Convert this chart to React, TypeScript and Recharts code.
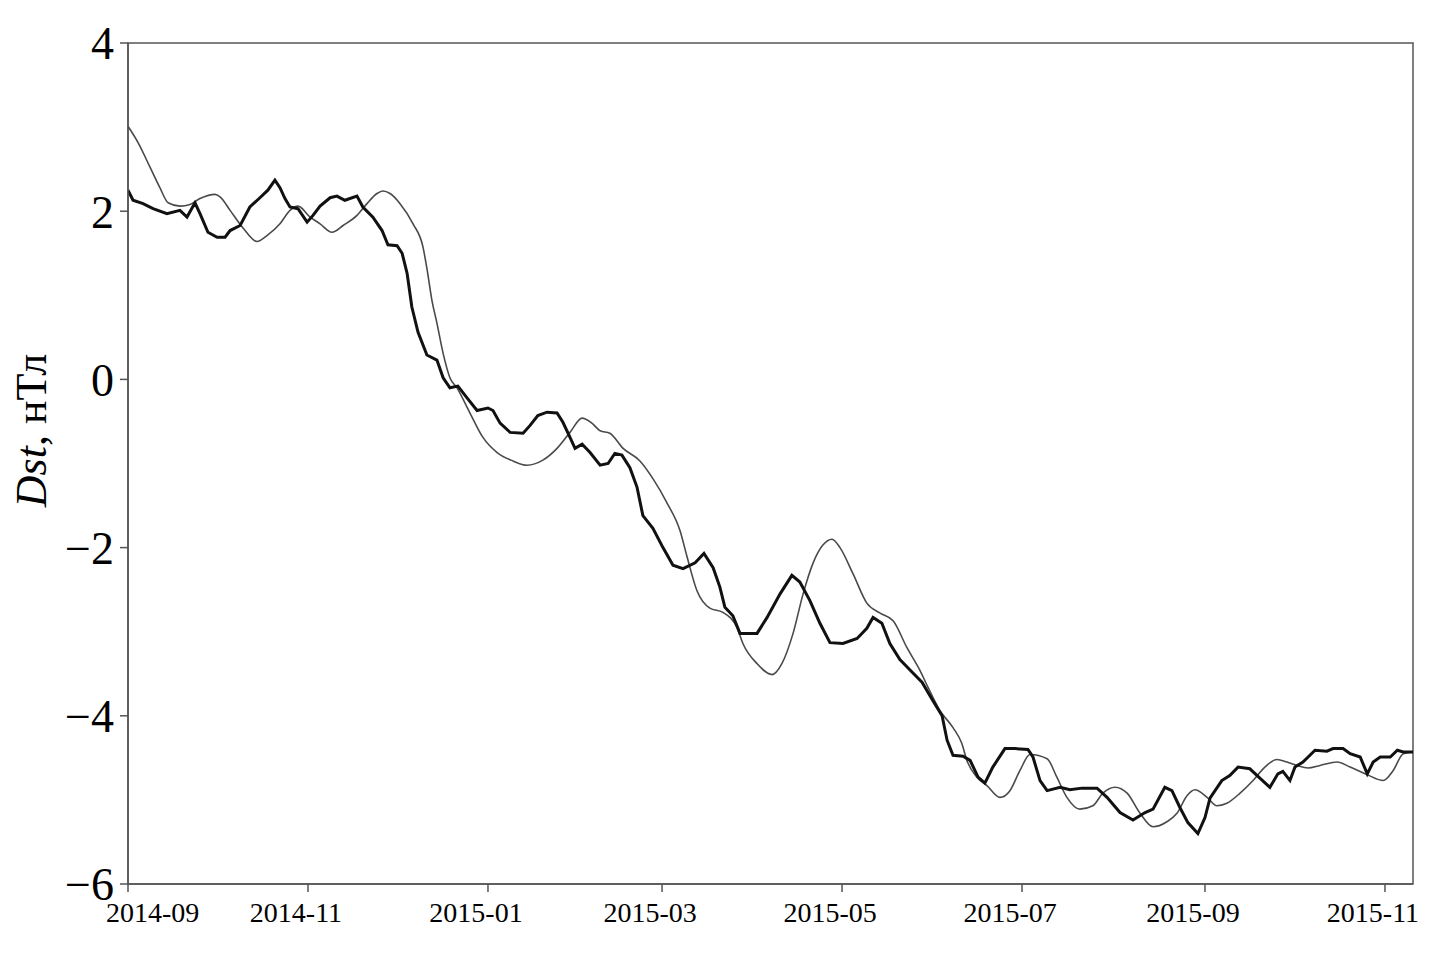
import React from "react";
import { LineChart, Line, XAxis, YAxis, ReferenceArea } from "recharts";

// Days since 2014-09-01
const tickDays = [0, 61, 122, 181, 242, 303, 365, 426];
const tickLabels = ["2014-09", "2014-11", "2015-01", "2015-03", "2015-05", "2015-07", "2015-09", "2015-11"];
const yTicks = [-6, -4, -2, 0, 2, 4];

// Thick (black) series
const thickDays = [0, 1.7, 5.1, 8.5, 13.2, 17.6, 20.0, 22.7, 24.4, 27.1, 30.2, 32.9, 34.6, 38.0, 41.3, 44.7, 47.4, 49.8, 51.5, 53.2, 54.9, 57.6, 60.7, 62.7, 65.1, 68.5, 70.8, 73.5, 77.6, 79.6, 83.0, 86.1, 88.1, 91.2, 92.9, 94.6, 96.2, 98.3, 101.3, 104.7, 106.8, 109.1, 111.8, 114.9, 118.3, 122.0, 123.7, 126.1, 129.5, 133.9, 136.2, 138.9, 142.0, 145.4, 147.4, 149.8, 151.5, 153.9, 156.6, 160.0, 162.7, 165.0, 167.4, 170.1, 172.5, 174.5, 177.9, 181.3, 184.7, 188.1, 192.2, 195.2, 198.3, 200.6, 202.3, 205.0, 207.4, 213.2, 216.6, 221.0, 225.0, 227.7, 231.1, 234.5, 237.9, 242.3, 247.1, 250.4, 252.5, 255.5, 258.2, 261.6, 265.7, 269.1, 272.8, 275.9, 277.6, 279.6, 283.0, 285.4, 288.1, 290.4, 293.1, 297.2, 300.6, 305.0, 306.7, 309.1, 311.5, 315.9, 319.2, 323.3, 328.4, 331.8, 336.2, 340.6, 344.7, 347.4, 351.4, 353.8, 356.5, 359.2, 362.6, 365.0, 366.7, 370.7, 373.4, 376.2, 380.2, 383.6, 387.0, 389.7, 391.4, 393.8, 395.5, 398.2, 402.3, 406.3, 408.4, 411.8, 414.2, 417.6, 420.0, 422.0, 424.4, 427.8, 430.2, 432.2, 435.5];
const thickValues = [2.25, 2.13, 2.09, 2.03, 1.97, 2.01, 1.93, 2.10, 1.97, 1.75, 1.69, 1.69, 1.77, 1.83, 2.05, 2.16, 2.25, 2.37, 2.28, 2.15, 2.05, 2.03, 1.87, 1.95, 2.06, 2.16, 2.18, 2.13, 2.18, 2.05, 1.93, 1.77, 1.60, 1.59, 1.50, 1.26, 0.86, 0.56, 0.29, 0.23, 0.02, -0.10, -0.08, -0.22, -0.37, -0.34, -0.37, -0.52, -0.63, -0.64, -0.55, -0.43, -0.39, -0.40, -0.51, -0.69, -0.82, -0.77, -0.87, -1.02, -1.00, -0.88, -0.90, -1.05, -1.28, -1.62, -1.77, -2.00, -2.21, -2.25, -2.18, -2.07, -2.24, -2.47, -2.71, -2.81, -3.02, -3.02, -2.83, -2.55, -2.33, -2.41, -2.63, -2.90, -3.13, -3.14, -3.08, -2.96, -2.83, -2.90, -3.14, -3.33, -3.48, -3.60, -3.82, -4.00, -4.29, -4.47, -4.48, -4.53, -4.73, -4.80, -4.61, -4.39, -4.39, -4.40, -4.49, -4.77, -4.89, -4.85, -4.88, -4.86, -4.86, -4.97, -5.15, -5.24, -5.15, -5.11, -4.85, -4.89, -5.09, -5.27, -5.40, -5.21, -4.98, -4.77, -4.71, -4.61, -4.63, -4.74, -4.85, -4.69, -4.66, -4.77, -4.61, -4.55, -4.41, -4.42, -4.39, -4.39, -4.45, -4.49, -4.69, -4.55, -4.49, -4.49, -4.41, -4.43, -4.43];

// Thin (grey) series
const thinDays = [0, 3.5, 7.5, 10.8, 13.6, 17.6, 21.0, 24.4, 29.5, 31.2, 34.6, 39.0, 43.7, 47.1, 51.5, 54.9, 57.6, 61.7, 65.1, 69.1, 72.9, 77.6, 81.0, 84.4, 86.4, 88.8, 92.2, 96.6, 100.0, 101.3, 103.0, 104.7, 106.8, 109.1, 111.5, 115.9, 120.3, 125.1, 130.5, 135.2, 140.6, 145.4, 149.8, 153.9, 157.2, 160.0, 163.3, 167.8, 173.5, 177.9, 182.7, 187.1, 189.4, 192.8, 197.2, 201.6, 206.4, 208.4, 213.2, 218.3, 221.6, 225.4, 228.8, 232.1, 235.5, 238.6, 241.3, 245.7, 250.4, 254.9, 259.3, 264.0, 268.4, 271.1, 275.2, 279.6, 282.6, 284.3, 287.7, 291.1, 295.5, 298.9, 302.3, 305.7, 311.5, 314.8, 318.2, 322.6, 327.0, 330.4, 334.5, 338.6, 343.0, 347.4, 352.1, 355.5, 358.9, 361.6, 365.7, 369.0, 372.4, 376.9, 381.3, 385.3, 389.4, 392.8, 396.2, 399.9, 404.0, 409.8, 414.2, 420.0, 425.4, 428.8, 432.2, 435.5];
const thinValues = [3.01, 2.81, 2.52, 2.28, 2.10, 2.06, 2.08, 2.15, 2.20, 2.17, 2.01, 1.80, 1.64, 1.71, 1.85, 2.01, 2.06, 1.93, 1.85, 1.75, 1.83, 1.95, 2.09, 2.21, 2.24, 2.21, 2.09, 1.85, 1.57, 1.32, 0.94, 0.67, 0.31, 0.02, -0.10, -0.40, -0.69, -0.87, -0.97, -1.02, -0.96, -0.82, -0.63, -0.46, -0.52, -0.61, -0.64, -0.82, -0.97, -1.18, -1.47, -1.80, -2.10, -2.51, -2.72, -2.77, -2.95, -3.14, -3.38, -3.51, -3.38, -3.02, -2.55, -2.19, -1.97, -1.90, -2.00, -2.31, -2.66, -2.78, -2.87, -3.19, -3.46, -3.66, -3.94, -4.14, -4.33, -4.53, -4.73, -4.83, -4.97, -4.89, -4.65, -4.46, -4.51, -4.73, -4.97, -5.11, -5.07, -4.92, -4.85, -4.92, -5.16, -5.32, -5.26, -5.16, -4.95, -4.88, -4.97, -5.07, -5.04, -4.92, -4.77, -4.61, -4.52, -4.55, -4.59, -4.62, -4.59, -4.55, -4.61, -4.70, -4.77, -4.65, -4.45, -4.43];

const thickData = thickDays.map((d, i) => ({ day: d, value: thickValues[i] }));
const thinData = thinDays.map((d, i) => ({ day: d, value: thinValues[i] }));

const X_MAX = 435.5;
const AXIS_COLOR = "#555";
const FONT = "'Liberation Serif', 'Times New Roman', serif";

const XTick = (props: any) => {
  const { x, y, payload, index } = props;
  const label = tickLabels[tickDays.indexOf(payload.value)] ?? "";
  const first = index === 0;
  return (
    <text
      x={first ? x - 22 : x - 12}
      y={y}
      dy="0.71em"
      textAnchor={first ? "start" : "middle"}
      fontSize={28}
      fontFamily={FONT}
      fill="#000"
    >
      {label}
    </text>
  );
};

const YLabel = (props: any) => {
  const vb = props.viewBox || { x: 0, y: 35, width: 120, height: 841 };
  const x = vb.x + 38;
  const y = vb.y + vb.height / 2 - 33;
  return (
    <text
      x={x}
      y={y}
      transform={`rotate(-90, ${x}, ${y})`}
      textAnchor="middle"
      fontSize={44}
      fontFamily={FONT}
      fill="#000"
    >
      <tspan fontStyle="italic">Dst</tspan>
      <tspan>, нТл</tspan>
    </text>
  );
};

export default function App() {
  return (
    <div style={{ width: 1424, height: 940, background: "#fff" }}>
      <LineChart width={1424} height={940} margin={{ top: 35, right: 19, bottom: 4, left: 0 }}>
        <XAxis
          type="number"
          dataKey="day"
          domain={[0, X_MAX]}
          ticks={tickDays}
          allowDataOverflow
          height={60}
          tickSize={8}
          tickMargin={10}
          stroke={AXIS_COLOR}
          strokeWidth={1.5}
          tick={<XTick />}
          interval={0}
        />
        <YAxis
          type="number"
          domain={[-6, 4]}
          ticks={yTicks}
          width={120}
          tickSize={8}
          tickMargin={6}
          stroke={AXIS_COLOR}
          strokeWidth={1.5}
          interval={0}
          tick={{ fontSize: 46, fontFamily: FONT, fill: "#000" }}
          tickFormatter={(v: number) => (v < 0 ? "\u2212" + Math.abs(v) : String(v))}
          label={{ content: <YLabel /> }}
        />
        <ReferenceArea
          x1={0}
          x2={X_MAX}
          y1={-6}
          y2={4}
          fill="none"
          stroke={AXIS_COLOR}
          strokeWidth={1.5}
          ifOverflow="visible"
        />
        <Line
          data={thinData}
          dataKey="value"
          type="monotone"
          stroke="#4a4a4a"
          strokeWidth={1.6}
          dot={false}
          isAnimationActive={false}
        />
        <Line
          data={thickData}
          dataKey="value"
          type="linear"
          stroke="#111"
          strokeWidth={3}
          dot={false}
          isAnimationActive={false}
        />
      </LineChart>
    </div>
  );
}
